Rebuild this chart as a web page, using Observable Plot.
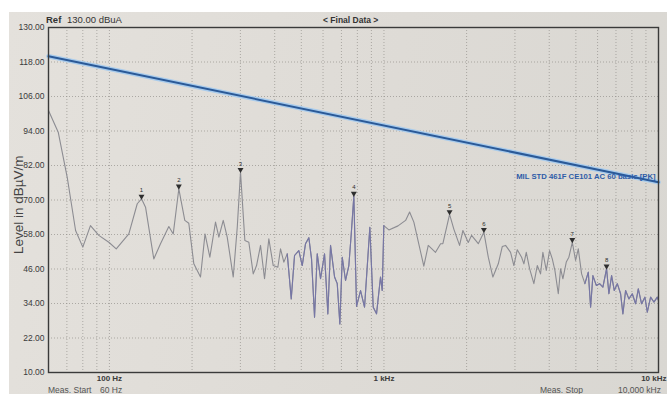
<!DOCTYPE html>
<html>
<head>
<meta charset="utf-8">
<script src="https://cdn.jsdelivr.net/npm/d3@7"></script>
<script src="https://cdn.jsdelivr.net/npm/@observablehq/plot@0.6"></script>
<style>
  html, body { margin: 0; padding: 0; background: #ffffff; width: 667px; height: 394px; overflow: hidden; }
  #paper { position: absolute; left: 9px; top: 12px; width: 658px; height: 382px;
           background: linear-gradient(100deg, #e4e1dc 0%, #dedbd6 55%, #d9d7d2 100%); }
  #paper svg { position: absolute; left: 0; top: 0; }
  .t { position: absolute; font-family: "Liberation Sans", Arial, sans-serif; color: #3a3a3a; white-space: nowrap; line-height: 1; }
</style>
</head>
<body>
<div id="paper"></div>
<script>
// ---------- data ----------
const traceFreq = [60, 65.1, 70.2, 75.3, 80.0, 85.3, 91.5, 99.5, 105.9, 117.7, 126.3, 130.9, 135.4, 145.1, 153.5, 164.6, 170.8, 179.0, 188.2, 194.6,
  203.0, 214.7, 223, 232.2, 243.5, 250.4, 259.8, 268.6, 282.5, 292.2, 300.3, 311.4, 322.0, 334.1, 343.5, 355.2, 367.3, 380.8, 395.1, 410.7,
  420.1, 431.9, 444.4, 459.5, 472.4, 489.7, 503.9, 518.0, 532.6, 544.8, 558.7, 571.5, 587.5, 607.6, 624.7, 638.9, 660.8, 675.9, 690.8, 704.9,
  724.6, 744.9, 760.1, 776.8, 794.6, 821.7, 849.7, 888.4, 914.0, 939.6, 971.6, 985.6, 998.9, 1042, 1125, 1199, 1240, 1285, 1397, 1450,
  1541, 1608, 1639, 1734, 1798, 1886, 1939, 2028, 2085, 2206, 2312, 2399, 2493, 2609, 2697, 2773, 2892, 2973, 3059, 3172,
  3234, 3299, 3392, 3516, 3618, 3719, 3792, 3902, 4011, 4103, 4194, 4315, 4399, 4485, 4614, 4716, 4853, 4989, 5103, 5247,
  5394, 5550, 5658, 5769, 5935, 6101, 6273, 6470, 6596, 6748, 6902, 7078, 7277, 7418, 7588, 7801, 8027, 8252, 8441, 8678,
  8922, 9104, 9359, 9622, 9900, 10000];
const traceLevel = [101.1, 93.6, 77.9, 59.4, 53.6, 61.1, 57.7, 55.3, 53.0, 58.2, 68.7, 70.4, 67.5, 49.5, 54.8, 60.8, 58.2, 73.9, 62.9, 61.9,
  47.8, 43.2, 58.2, 50.1, 62.3, 57.1, 62.9, 57.1, 43.2, 60.5, 79.7, 55.9, 55.3, 44.3, 47.2, 54.2, 42.6, 56.5, 47.2, 46.6,
  53.0, 48.4, 51.3, 35.6, 50.7, 52.4, 47.2, 54.8, 56.9, 49.5, 29.2, 51.3, 42.6, 51.3, 30.4, 54.2, 43.2, 40.9, 26.9, 50.1,
  42.0, 47.2, 58.2, 71.4, 33.0, 38.5, 32.7, 60.5, 32.7, 30.4, 43.2, 38.5, 61.1, 59.6, 61.0, 62.9, 65.8, 62.3, 47.0, 54.2,
  51.8, 54.8, 54.8, 65.0, 59.8, 54.2, 59.4, 55.2, 57.7, 54.8, 58.8, 50.1, 43.2, 47.8, 53.8, 54.2, 51.8, 47.2, 52.7, 50.1,
  47.8, 51.8, 46.1, 40.9, 47.2, 44.3, 51.8, 45.5, 52.4, 49.5, 45.5, 37.4, 46.1, 42.6, 48.4, 50.1, 55.3, 49.0, 53.0, 44.3,
  40.9, 44.9, 32.7, 43.7, 40.3, 40.9, 39.7, 46.1, 37.4, 43.7, 38.5, 40.9, 37.4, 30.4, 38.5, 35.6, 37.4, 33.9, 39.1, 33.9,
  36.2, 31.0, 36.2, 34.5, 36.2, 35.0];

const limitFreq = [60, 10000];
const limitLevel = [120.0, 76.2];
const limitName = "MIL STD 461F CE101 AC 60 basic [PK]";

const markerLabel = ["1", "2", "3", "4", "5", "6", "7", "8"];
const markerFreq = [130.9, 179.0, 300.3, 776.8, 1734, 2312, 4853, 6470];
const markerLevel = [70.4, 73.9, 79.7, 71.4, 65.0, 58.8, 55.3, 46.1];

const levelTicks = [10, 22, 34, 46, 58, 70, 82, 94, 106, 118, 130];
const freqTicks = [100, 1000];
const freqTickLabels = ["100 Hz", "1 kHz"];
const lastFreqTick = 10000;
const lastFreqTickLabel = "10 kHz";
const gridFreqs = [70, 80, 90, 100, 200, 300, 400, 500, 600, 700, 800, 900, 1000, 2000, 3000, 4000, 5000, 6000, 7000, 8000, 9000];

// ---------- build ----------
const trace = traceFreq.map((f, i) => ({ f, v: traceLevel[i] }));
const blueTrace1 = trace.filter(d => d.f >= 440 && d.f <= 999);
const blueTrace2 = trace.filter(d => d.f >= 5394);
const limit = limitFreq.map((f, i) => ({ f, v: limitLevel[i] }));
const markers = markerFreq.map((f, i) => ({ f, v: markerLevel[i], label: markerLabel[i] }));

const chart = Plot.plot({
  width: 658,
  height: 382,
  marginLeft: 39,
  marginTop: 15,
  marginRight: 9,
  marginBottom: 22,
  style: { background: "transparent", fontFamily: "Liberation Sans, Arial, sans-serif", overflow: "visible" },
  x: { type: "log", domain: [60, 10000] },
  y: { domain: [10, 130] },
  marks: [
    Plot.gridX(gridFreqs, { stroke: "#8e8b86", strokeOpacity: 0.65, strokeDasharray: "1,2" }),
    Plot.gridY(levelTicks, { stroke: "#8e8b86", strokeOpacity: 0.65, strokeDasharray: "1,2" }),
    Plot.axisY(levelTicks, { tickSize: 0, tickPadding: 4, tickFormat: d => d.toFixed(2), fontSize: 8.5, fill: "#3a3a3a", label: null }),
    Plot.axisX(freqTicks, { tickSize: 0, tickPadding: 3, tickFormat: d => freqTickLabels[freqTicks.indexOf(d)], fontSize: 8, fontWeight: "bold", fill: "#3a3a3a", label: null }),
    Plot.text([lastFreqTick], { x: d => d, frameAnchor: "bottom", text: () => lastFreqTickLabel, textAnchor: "end", lineAnchor: "top", dx: 8, dy: 3, fontSize: 8, fontWeight: "bold", fill: "#3a3a3a" }),
    Plot.line(limit, { x: "f", y: "v", stroke: "#a8cbec", strokeWidth: 4.5 }),
    Plot.line(limit, { x: "f", y: "v", stroke: "#2b5a98", strokeWidth: 2 }),
    Plot.text([limit[1]], { x: "f", y: "v", text: () => limitName, textAnchor: "end", dx: -3, dy: -6, fontSize: 7.7, fontWeight: "bold", fill: "#2e5ca8" }),
    Plot.line(trace, { x: "f", y: "v", stroke: "#8c8c92", strokeWidth: 1.1 }),
    Plot.line(blueTrace1, { x: "f", y: "v", stroke: "#7676a6", strokeWidth: 1.1 }),
    Plot.line(blueTrace2, { x: "f", y: "v", stroke: "#7676a6", strokeWidth: 1.1 }),
    Plot.dot(markers, { x: "f", y: "v", symbol: "triangle", rotate: 180, r: 2.2, fill: "#2e2e2e", stroke: "none", dy: -2.5 }),
    Plot.text(markers, { x: "f", y: "v", text: "label", dy: -8.5, fontSize: 6, fill: "#2e2e2e" }),
    Plot.frame({ stroke: "#3a3a3a", strokeWidth: 1.4 })
  ]
});
const paper = document.getElementById("paper");
paper.appendChild(chart);

function addText(txt, left, top, css) {
  const s = document.createElement("span");
  s.className = "t";
  s.textContent = txt;
  s.style.left = left + "px";
  s.style.top = top + "px";
  Object.assign(s.style, css || {});
  document.body.appendChild(s);
  return s;
}
addText("Ref", 46, 15, { fontSize: "9.5px", fontWeight: "bold", color: "#333" });
addText("130.00 dBuA", 67, 15, { fontSize: "9.5px", color: "#333" });
addText("< Final Data >", 323, 16, { fontSize: "8.5px", fontWeight: "bold", color: "#333" });
addText("Meas. Start", 48, 386, { fontSize: "8.5px", color: "#555" });
addText("60 Hz", 100, 386, { fontSize: "8.5px", color: "#555" });
addText("Meas. Stop", 540, 386, { fontSize: "8.5px", color: "#555" });
addText("10,000 kHz", 618, 386, { fontSize: "8.5px", color: "#555" });
const yl = addText("Level in dBµV/m", 0, 0, { fontSize: "13.5px", color: "#444" });
const r = yl.getBoundingClientRect();
yl.style.transformOrigin = "center center";
yl.style.left = (18 - r.width / 2) + "px";
yl.style.top = (205 - r.height / 2) + "px";
yl.style.transform = "rotate(-90deg)";
</script>
</body>
</html>
